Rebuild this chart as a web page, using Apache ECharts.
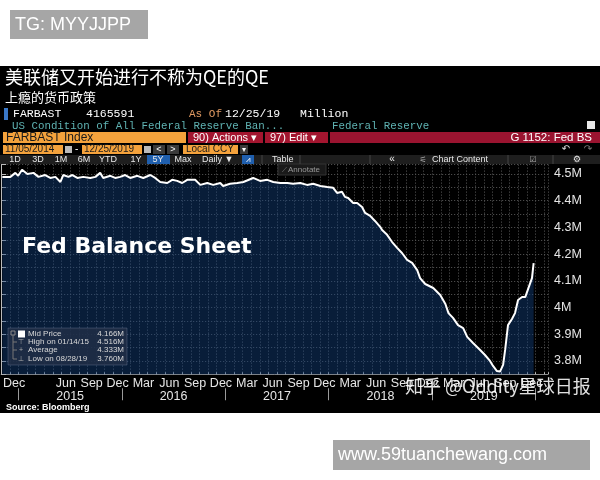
<!DOCTYPE html>
<html><head><meta charset="utf-8">
<script src="https://cdn.jsdelivr.net/npm/echarts@6/dist/echarts.min.js"></script>
<style>html,body{margin:0;padding:0;background:#fff}#c{width:600px;height:480px}</style>
</head><body><div id="c"></div>
<script>
// ---- data (Fed balance sheet, FARBAST, millions -> shown in M) ----
const dates = [
'2014-11-05','2014-12-03','2014-12-21','2014-12-31','2015-01-14','2015-02-02','2015-02-22','2015-03-11','2015-04-04','2015-04-22','2015-05-10','2015-05-28','2015-06-07','2015-06-25','2015-07-09','2015-07-27','2015-08-17','2015-09-11','2015-09-29','2015-10-16','2015-10-27','2015-11-21','2015-12-08','2015-12-26',
'2016-01-13','2016-01-31','2016-02-24','2016-03-16','2016-04-10','2016-04-27','2016-05-15','2016-06-09','2016-06-26','2016-07-14','2016-08-01','2016-08-19','2016-09-16','2016-10-04','2016-10-29','2016-11-19','2016-12-14','2016-12-24',
'2017-01-18','2017-02-12','2017-03-04','2017-04-08','2017-05-02','2017-05-28','2017-06-18','2017-07-13','2017-08-07','2017-08-28','2017-09-22','2017-10-16','2017-11-07','2017-12-02','2017-12-27',
'2018-01-17','2018-01-31','2018-02-16','2018-02-26','2018-03-09','2018-03-27','2018-04-10','2018-04-27','2018-05-08','2018-05-26','2018-06-12','2018-06-30','2018-07-07','2018-07-25','2018-08-12','2018-08-30','2018-09-16','2018-10-04','2018-10-22','2018-11-09','2018-11-19','2018-12-07',
'2019-01-05','2019-01-30','2019-02-16','2019-02-26','2019-03-14','2019-04-01','2019-04-19','2019-05-03','2019-05-24','2019-06-18','2019-07-05','2019-07-23','2019-08-03','2019-08-17','2019-08-28','2019-09-08','2019-09-15','2019-09-25','2019-10-09','2019-10-20','2019-10-31','2019-11-14','2019-11-25','2019-12-05','2019-12-19','2019-12-25'
];
const values = [
4.489,4.489,4.504,4.493,4.516,4.500,4.504,4.489,4.496,4.485,4.489,4.470,4.496,4.489,4.496,4.485,4.489,4.485,4.489,4.504,4.485,4.493,4.485,4.489,
4.496,4.485,4.493,4.485,4.496,4.485,4.470,4.466,4.478,4.474,4.466,4.478,4.478,4.459,4.466,4.459,4.466,4.455,
4.463,4.466,4.470,4.485,4.474,4.478,4.470,4.466,4.466,4.463,4.466,4.459,4.463,4.455,4.451,
4.448,4.429,4.433,4.414,4.410,4.391,4.391,4.376,4.354,4.343,4.324,4.302,4.290,4.272,4.245,4.223,4.204,4.178,4.167,4.140,4.110,4.088,
4.073,4.047,4.013,3.979,3.961,3.934,3.923,3.890,3.867,3.841,3.822,3.800,3.781,3.762,3.760,3.785,3.841,3.934,3.957,3.979,4.028,4.039,4.039,4.069,4.110,4.166
];
const monthTickDates = ['2014-12','2015-06','2015-09','2015-12','2016-03','2016-06','2016-09','2016-12','2017-03','2017-06','2017-09','2017-12','2018-03','2018-06','2018-09','2018-12','2019-03','2019-06','2019-09','2019-12'];
const monthTickLabels = ['Dec','Jun','Sep','Dec','Mar','Jun','Sep','Dec','Mar','Jun','Sep','Dec','Mar','Jun','Sep','Dec','Mar','Jun','Sep','Dec'];
const yearLabels = ['2015','2016','2017','2018','2019'];
const yearSeparators = ['2015','2016','2017','2018','2019','2020'];
const legendLabels = ['Mid Price','High on 01/14/15','Average','Low on 08/28/19'];
const legendValues = ['4.166M','4.516M','4.333M','3.760M'];

// months since 2014-11-01
function toM(s){const p=s.split('-').map(Number);const y=p[0],mo=p[1]||1,d=p[2]||1;const dim=new Date(y,mo,0).getDate();return (y-2014)*12+(mo-1)-10+(d-1)/dim;}
const seriesData = dates.map((d,i)=>[toM(d), values[i]]);
const monthVals = monthTickDates.map(d=>toM(d)+0.5);
const yearVals = yearLabels.map(y=>toM(y+'-07'));
const sepVals = yearSeparators.map(y=>toM(y+'-01'));
const last = values[values.length-1];

const SANS='Liberation Sans, Arial, sans-serif';
const MONO='Liberation Mono, DejaVu Sans Mono, monospace';
const CJK='Noto Sans CJK SC, sans-serif';
function T(x,y,text,fill,size,opt){opt=opt||{};return {type:'text',x:x,y:y,z:opt.z||50,style:{text:text,fill:fill,fontSize:size,fontFamily:opt.family||SANS,fontWeight:opt.weight||'normal',textAlign:opt.align||'left',textVerticalAlign:'middle',opacity:opt.opacity==null?1:opt.opacity}};}
function R(x,y,w,h,fill,opt){opt=opt||{};return {type:'rect',z:opt.z==null?40:opt.z,shape:{x:x,y:y,width:w,height:h,r:opt.r||0},style:{fill:fill,stroke:opt.stroke||null,lineWidth:opt.lw||1}};}
function L(x1,y1,x2,y2,stroke,opt){opt=opt||{};return {type:'line',z:opt.z||50,shape:{x1:x1,y1:y1,x2:x2,y2:y2},style:{stroke:stroke,lineWidth:opt.lw||1}};}

const g = [];
// page pieces
g.push(R(10,10,138,29,'#a6a6a6'));
g.push(T(15,25,'TG: MYYJJPP','#ffffff',18));
g.push(R(0,66,600,347,'#000000',{z:-10}));
g.push(R(333,440,257,30,'#a6a6a6'));
g.push(T(338,455,'www.59tuanchewang.com','#ffffff',18));
// titles
g.push(T(5,77,'美联储又开始进行不称为QE的QE','#ffffff',18,{family:CJK}));
g.push(T(5,97,'上瘾的货币政策','#ffffff',13,{family:CJK}));
// row 1
g.push(R(4,108,4,12,'#3a78c8'));
g.push(T(13,114,'FARBAST','#ffffff',11.5,{family:MONO}));
g.push(T(86,114,'4165591','#ffffff',11.5,{family:MONO}));
g.push(T(189,114,'As Of','#e09a62',11,{family:MONO}));
g.push(T(225,114,'12/25/19','#ffffff',11.5,{family:MONO}));
g.push(T(300,114,'Million','#ffffff',11.5,{family:MONO}));
// row 2
g.push(T(12,126.5,'US Condition of All Federal Reserve Ban...','#5fb3b3',10.8,{family:MONO}));
g.push(T(332,126.5,'Federal Reserve','#5fb3b3',10.8,{family:MONO}));
g.push(R(587,121,8,8,'#e8e8e8'));
// row 3
g.push(R(3,132,183,11,'#f4a23c'));
g.push(T(6,138,'FARBAST Index','#1a1a1a',12));
g.push(R(188,132,75,11,'#a3152f'));
g.push(T(193,138,'90) Actions ▾','#ffffff',11));
g.push(R(265,132,63,11,'#a3152f'));
g.push(T(270,138,'97) Edit ▾','#ffffff',11));
g.push(R(330,132,270,11,'#9a1430'));
g.push(T(592,138,'G 1152: Fed BS','#ffffff',11.5,{align:'right'}));
// row 4
g.push(R(3,145,60,9,'#f4a23c'));
g.push(T(5,149.5,'11/05/2014','#1a1a1a',10));
g.push(R(65,146,7,7,'#bbbbbb'));
g.push(T(75,149.5,'-','#ffffff',10));
g.push(R(82,145,60,9,'#f4a23c'));
g.push(T(84,149.5,'12/25/2019','#1a1a1a',10));
g.push(R(144,146,7,7,'#bbbbbb'));
g.push(R(153,145,12,9,'#3a3a3a'));
g.push(T(159,149.5,'<','#ffffff',9,{align:'center'}));
g.push(R(167,145,12,9,'#3a3a3a'));
g.push(T(173,149.5,'>','#ffffff',9,{align:'center'}));
g.push(R(183,145,55,9,'#f4a23c'));
g.push(T(186,149.5,'Local CCY','#1a1a1a',10));
g.push(R(240,145,8,9,'#3a3a3a'));
g.push(T(244,149.5,'▾','#ffffff',8,{align:'center'}));
g.push(T(566,149.5,'↶','#dddddd',10,{align:'center',family:'DejaVu Sans'}));
g.push(T(588,149.5,'↷','#777777',10,{align:'center',family:'DejaVu Sans'}));
// row 5 toolbar
g.push(R(0,155,600,9,'#1e1e1e'));
const tb=[['1D',15],['3D',38],['1M',61],['6M',84],['YTD',108],['1Y',136],['5Y',158],['Max',183]];
g.push(R(147,155,23,9,'#1f5fae'));
tb.forEach(t=>g.push(T(t[1],159.5,t[0],'#e8e8e8',9,{align:'center'})));
g.push(T(202,159.5,'Daily ▼','#e8e8e8',9));
g.push(R(242,155,12,9,'#1f5fae'));
g.push(T(248,159.5,'⩘','#ffffff',8,{align:'center',family:'DejaVu Sans'}));
g.push(T(272,159.5,'Table','#e8e8e8',9));
[262,300,370,508,553].forEach(x=>g.push(L(x,155,x,164,'#444444')));
g.push(T(392,159.5,'«','#e8e8e8',10,{align:'center'}));
g.push(T(432,159.5,'Chart Content','#e8e8e8',9));
g.push(T(423,159.5,'⚟','#aaaaaa',8,{align:'center',family:'DejaVu Sans'}));
g.push(T(533,159.5,'☑','#aaaaaa',8,{align:'center',family:'DejaVu Sans'}));
g.push(T(577,159.5,'⚙','#e8e8e8',9,{align:'center',family:'DejaVu Sans'}));
// annotate
g.push(R(278,164,48,11,'#1a1a1a',{stroke:'#333333',z:45}));
g.push(T(282,170,'⟋','#888888',7,{family:'DejaVu Sans'}));
g.push(T(288,170,'Annotate','#999999',8));
// chart caption
g.push(T(22,247,'Fed Balance Sheet','#ffffff',22,{weight:'bold',family:'DejaVu Sans'}));
// legend box
g.push(R(8,328,119,37,'rgba(32,46,70,0.85)',{stroke:'rgba(120,135,160,0.35)',z:60}));
g.push(R(11,331,4,4,'rgba(0,0,0,0)',{stroke:'#888888',z:61}));
g.push(L(13,335,13,359,'#777777',{z:61}));
[342,350,359].forEach(y=>g.push(L(13,y,17,y,'#777777',{z:61})));
g.push(R(18,330.5,7,7,'#ffffff',{z:61}));
g.push(T(21,342,'⊤','#aaaaaa',7,{z:62,family:'DejaVu Sans',align:'center'}));
g.push(T(21,350,'+','#aaaaaa',7,{z:62,align:'center'}));
g.push(T(21,359,'⊥','#aaaaaa',7,{z:62,family:'DejaVu Sans',align:'center'}));
const ly=[334,342,350,359];
legendLabels.forEach((t,i)=>{g.push(T(28,ly[i],t,'#d8d8d8',8,{z:62}));g.push(T(124,ly[i],legendValues[i],'#d8d8d8',8,{z:62,align:'right'}));});
// source + watermark
g.push(T(6,408,'Source: Bloomberg','#ffffff',9,{weight:'bold'}));
g.push(T(405,386,'知乎 @Oddity星球日报','#ffffff',18,{family:CJK,z:80,opacity:0.88}));

const chart = echarts.init(document.getElementById('c'));
chart.setOption({
  animation:false,
  backgroundColor:'#ffffff',
  grid:{left:1,right:52,top:164.6,bottom:105.75},
  xAxis:[{
    type:'value',min:0,max:63.44,interval:1,
    axisLine:{show:true,lineStyle:{color:'#8a8a8a'}},
    axisTick:{show:true,inside:true,length:2,lineStyle:{color:'#bbbbbb'}},
    splitLine:{show:true,lineStyle:{color:'#5a5a5a',type:[1,2],width:1}},
    axisLabel:{customValues:monthVals,margin:3,color:'#e6e6e6',fontSize:12.5,fontFamily:SANS,
      formatter:function(v){for(let i=0;i<monthVals.length;i++){if(Math.abs(monthVals[i]-v)<0.01)return monthTickLabels[i];}return '';}}
  },{
    type:'value',min:0,max:63.44,position:'bottom',offset:14,
    axisLine:{show:false},
    axisTick:{show:true,customValues:sepVals,length:12,lineStyle:{color:'#9a9a9a'}},
    splitLine:{show:false},
    axisLabel:{customValues:yearVals,margin:2,color:'#e6e6e6',fontSize:12.5,fontFamily:SANS,
      formatter:function(v){for(let i=0;i<yearVals.length;i++){if(Math.abs(yearVals[i]-v)<0.01)return yearLabels[i];}return '';}}
  }],
  yAxis:{
    type:'value',position:'right',min:3.75,max:4.535,interval:0.05,
    axisLine:{show:true,lineStyle:{color:'#bbbbbb'}},
    axisTick:{show:true,length:5,lineStyle:{color:'#bbbbbb'}},
    splitLine:{show:true,lineStyle:{color:'#5a5a5a',type:[1,2],width:1}},
    axisLabel:{margin:6,color:'#e6e6e6',fontSize:12.5,fontFamily:SANS,
      formatter:function(v){const r=Math.round(v*100);if(r%10!==0)return '';return (r/100)+'M';}}
  },
  series:[{
    type:'line',data:seriesData,showSymbol:false,symbol:'none',
    lineStyle:{color:'#ffffff',width:2},
    areaStyle:{color:'rgba(18,66,132,0.62)',origin:'start'},
    markLine:{silent:true,symbol:'none',animation:false,
      lineStyle:{opacity:0},
      label:{position:'end',distance:4,formatter:last.toFixed(3)+'M',backgroundColor:'#ffffff',color:'#000000',
        padding:[2,3,1,3],borderRadius:2,fontSize:12.5,fontFamily:SANS},
      data:[{yAxis:last}]}
  }],
  graphic:{elements:g}
});
</script></body></html>
